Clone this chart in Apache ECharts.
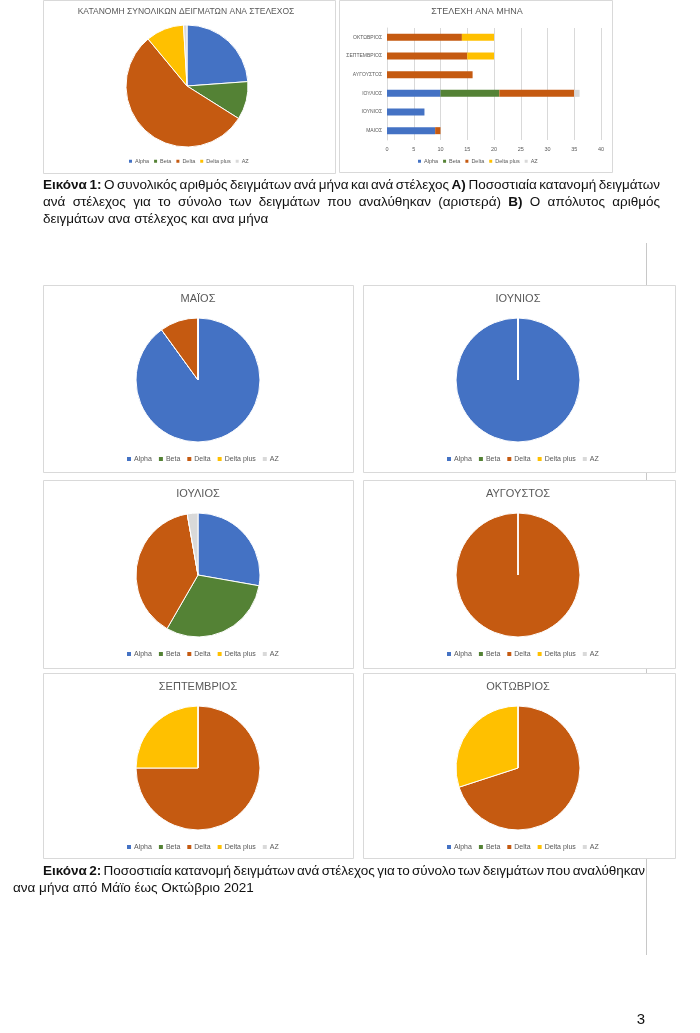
<!DOCTYPE html>
<html>
<head>
<meta charset="utf-8">
<style>
html,body{margin:0;padding:0;background:#fff;}
#chart{width:700px;height:1033px;}
</style>
<script src="https://cdn.jsdelivr.net/npm/echarts@6/dist/echarts.min.js"></script>
</head>
<body>
<div id="chart"></div>
<script>
// ---- DATA ----
const strains = ['Alpha', 'Beta', 'Delta', 'Delta plus', 'AZ'];
const barMonths = ['ΜΑΙΟΣ', 'ΙΟΥΝΙΟΣ', 'ΙΟΥΛΙΟΣ', 'ΑΥΓΟΥΣΤΟΣ', 'ΣΕΠΤΕΜΒΡΙΟΣ', 'ΟΚΤΩΒΡΙΟΣ'];
const pieMonths = ['ΜΑΪΟΣ', 'ΙΟΥΝΙΟΣ', 'ΙΟΥΛΙΟΣ', 'ΑΥΓΟΥΣΤΟΣ', 'ΣΕΠΤΕΜΒΡΙΟΣ', 'ΟΚΤΩΒΡΙΟΣ'];
const alpha     = [9, 7, 10, 0, 0, 0];
const beta      = [0, 0, 11, 0, 0, 0];
const delta     = [1, 0, 14, 16, 15, 14];
const deltaPlus = [0, 0, 0, 0, 5, 6];
const az        = [0, 0, 1, 0, 0, 0];
const xTicksMin = 0, xTicksMax = 40, xTicksStep = 5;
const totalTitle = 'ΚΑΤΑΝΟΜΗ ΣΥΝΟΛΙΚΩΝ ΔΕΙΓΜΑΤΩΝ ΑΝΑ ΣΤΕΛΕΧΟΣ';
const barTitle = 'ΣΤΕΛΕΧΗ ΑΝΑ ΜΗΝΑ';

// ---- STYLE ----
const colors = ['#4472C4', '#548235', '#C55A11', '#FFC000', '#D9D9D9'];
const FONT = '"Liberation Sans Narrow", "Arial Narrow", "Liberation Sans", sans-serif';
const TXT = '#595959';
const BORDER = '#D9D9D9';

const seriesArrays = [alpha, beta, delta, deltaPlus, az];
const sum = a => a.reduce((s, v) => s + v, 0);

const chart = echarts.init(document.getElementById('chart'), null, {renderer: 'canvas'});

const titles = [];
const legends = [];
const series = [];
const graphics = [];

// right-hand margin line
graphics.push({type: 'line', z: -5, shape: {x1: 646.5, y1: 243, x2: 646.5, y2: 955}, style: {stroke: '#C8C8C8', lineWidth: 1}});

function box(x, y, w, h) {
  graphics.push({type: 'rect', z: -1, shape: {x: x + 0.5, y: y + 0.5, width: w, height: h},
    style: {fill: '#fff', stroke: BORDER, lineWidth: 1}});
}

function legendAt(left, topC, fs, iw, gap) {
  legends.push({
    left: left, top: topC - fs / 2 - 1, orient: 'horizontal', padding: 0,
    itemWidth: iw, itemHeight: iw, itemGap: gap, icon: 'rect',
    data: strains.slice(),
    textStyle: {fontSize: fs, color: TXT, fontFamily: FONT, padding: [0, 0, 0, -2]},
    selectedMode: false
  });
}

function titleAt(text, cx, cy, fs) {
  titles.push({text: text, left: cx, top: cy - fs / 2 - 1, textAlign: 'center', padding: 0,
    textStyle: {fontSize: fs, fontWeight: 'normal', color: TXT, fontFamily: FONT}});
}

function pie(values, cx, cy, r) {
  series.push({
    type: 'pie', center: [cx, cy], radius: r, startAngle: 90, clockwise: true,
    label: {show: false}, labelLine: {show: false}, silent: true,
    itemStyle: {borderColor: '#fff', borderWidth: 1},
    data: strains.map((n, i) => ({name: n, value: values[i], itemStyle: {color: colors[i]}}))
  });
}

// ---- Top-left: total pie ----
box(43, 0, 292, 173);
titleAt(totalTitle, 186, 12, 8.5);
pie(seriesArrays.map(sum), 187, 86, 61);
legendAt(129, 162, 5.5, 3, 5);

// ---- Top-right: stacked bars ----
box(339, 0, 273, 172);
titleAt(barTitle, 477, 13, 9);
legendAt(418, 162, 5.5, 3, 5);
strains.forEach((n, i) => {
  series.push({
    type: 'bar', name: n, stack: 'm', xAxisIndex: 0, yAxisIndex: 0, barWidth: 7,
    itemStyle: {color: colors[i]}, silent: true,
    data: seriesArrays[i]
  });
});

// ---- Monthly pies ----
const boxes = [[43, 285], [363, 285], [43, 480], [363, 480], [43, 673], [363, 673]];
const boxH = [187, 187, 188, 188, 185, 185];
pieMonths.forEach((m, k) => {
  const [bx, by] = boxes[k];
  box(bx, by, bx === 43 ? 310 : 312, boxH[k]);
  titleAt(m, bx + 155, by + 15, 11);
  pie(seriesArrays.map(a => a[k]), bx + 155, by + 95, 62);
  legendAt(bx + 84, by + 175, 7, 4, 7);
});

// ---- Captions (justified text laid out word by word) ----
const cv = document.createElement('canvas').getContext('2d');
function fontStr(bold, fs) { return (bold ? 'bold ' : '') + fs + 'px ' + FONT; }
function line(segs, x0, x1, y, fs, justify) {
  const words = [];
  segs.forEach(([t, b]) => t.split(' ').filter(w => w.length).forEach(w => words.push([w, b])));
  cv.font = fontStr(false, fs);
  const space = cv.measureText(' ').width;
  const widths = words.map(([w, b]) => { cv.font = fontStr(b, fs); return cv.measureText(w).width; });
  const W = widths.reduce((s, v) => s + v, 0);
  const gap = justify && words.length > 1 ? (x1 - x0 - W) / (words.length - 1) : space;
  let x = x0;
  words.forEach(([w, b], i) => {
    graphics.push({type: 'text', z: 10, x: x, y: y,
      style: {text: w, fill: '#111', font: fontStr(b, fs), verticalAlign: 'middle', align: 'left'}});
    x += widths[i] + gap;
  });
}
const CF = 13.5;
line([['Εικόνα 1:', true], ['Ο συνολικός αριθμός δειγμάτων ανά μήνα και ανά στέλεχος', false], ['Α)', true], ['Ποσοστιαία κατανομή δειγμάτων', false]], 43, 660, 185, CF, true);
line([['ανά στέλεχος για το σύνολο των δειγμάτων που αναλύθηκαν (αριστερά)', false], ['Β)', true], ['Ο απόλυτος αριθμός', false]], 43, 660, 202, CF, true);
line([['δειγμάτων ανα στέλεχος και ανα μήνα', false]], 43, 660, 219, CF, false);
line([['Εικόνα 2:', true], ['Ποσοστιαία κατανομή δειγμάτων ανά στέλεχος για το σύνολο των δειγμάτων που αναλύθηκαν', false]], 43, 645, 871, CF, true);
line([['ανα μήνα από Μάϊο έως Οκτώβριο 2021', false]], 13, 645, 888, CF, false);
graphics.push({type: 'text', z: 10, x: 641, y: 1020,
  style: {text: '3', fill: '#111', font: '15px ' + FONT, verticalAlign: 'middle', align: 'center'}});

const option = {
  animation: false,
  backgroundColor: '#fff',
  title: titles,
  legend: legends,
  grid: [{left: 387, top: 28, width: 214, height: 112, containLabel: false}],
  xAxis: [{
    type: 'value', min: xTicksMin, max: xTicksMax, interval: xTicksStep,
    axisLine: {show: false}, axisTick: {show: false},
    splitLine: {lineStyle: {color: BORDER, width: 1}},
    axisLabel: {fontSize: 5.5, color: TXT, fontFamily: FONT, margin: 6}
  }],
  yAxis: [{
    type: 'category', data: barMonths,
    axisLine: {lineStyle: {color: BORDER}}, axisTick: {show: false},
    axisLabel: {fontSize: 5, color: TXT, fontFamily: FONT, margin: 5}
  }],
  graphic: {elements: graphics},
  series: series
};
chart.setOption(option);
</script>
</body>
</html>
